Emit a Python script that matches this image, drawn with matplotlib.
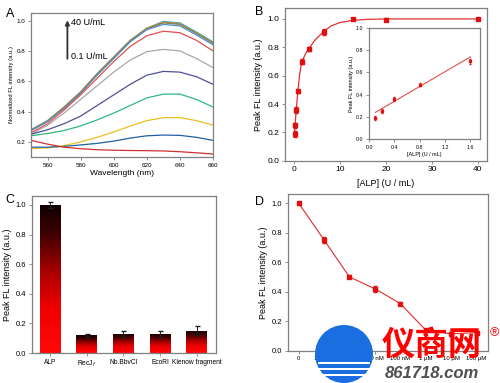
import numpy as np
import matplotlib
matplotlib.use("Agg")
import matplotlib.pyplot as plt
from matplotlib.colors import LinearSegmentedColormap
from matplotlib.patches import Ellipse, Rectangle

plt.rcParams['font.family'] = ['Liberation Sans', 'DejaVu Sans']

# ---------------- data ----------------
# panel A : spectra read every 10 nm
wl = [550, 560, 570, 580, 590, 600, 610, 620, 630, 640, 650, 660]
spectra = [
    ('#2ab5c8', [0.28, 0.34, 0.43, 0.53, 0.65, 0.76, 0.87, 0.95, 0.995, 0.985, 0.925, 0.86]),
    ('#c89040', [0.28, 0.34, 0.43, 0.53, 0.65, 0.76, 0.87, 0.95, 0.99, 0.98, 0.92, 0.855]),
    ('#8a7a50', [0.275, 0.335, 0.425, 0.525, 0.645, 0.755, 0.865, 0.945, 0.985, 0.975, 0.915, 0.85]),
    ('#4a90c8', [0.275, 0.335, 0.42, 0.52, 0.64, 0.75, 0.86, 0.94, 0.975, 0.965, 0.905, 0.84]),
    ('#e05050', [0.26, 0.32, 0.41, 0.51, 0.62, 0.73, 0.83, 0.90, 0.93, 0.92, 0.87, 0.80]),
    ('#a8a8a8', [0.25, 0.31, 0.39, 0.48, 0.57, 0.66, 0.74, 0.795, 0.81, 0.80, 0.75, 0.69]),
    ('#505098', [0.25, 0.28, 0.32, 0.37, 0.44, 0.51, 0.58, 0.64, 0.665, 0.66, 0.63, 0.58]),
    ('#30b880', [0.24, 0.255, 0.275, 0.305, 0.345, 0.39, 0.44, 0.49, 0.515, 0.515, 0.48, 0.43]),
    ('#e8c020', [0.155, 0.16, 0.175, 0.20, 0.23, 0.265, 0.305, 0.34, 0.36, 0.36, 0.34, 0.31]),
    ('#2060a0', [0.165, 0.165, 0.17, 0.18, 0.19, 0.205, 0.225, 0.24, 0.245, 0.243, 0.23, 0.21]),
    ('#d03030', [0.21, 0.185, 0.165, 0.155, 0.148, 0.145, 0.143, 0.142, 0.14, 0.135, 0.128, 0.12]),
]

# panel B
alp = [0.1, 0.2, 0.4, 0.8, 1.6, 3.2, 6.4, 12.8, 20, 40]
alp_int = [0.19, 0.25, 0.36, 0.49, 0.70, 0.79, 0.91, 1.0, 0.995, 1.0]
alp_err = [0.02, 0.02, 0.02, 0.01, 0.02, 0.015, 0.02, 0.01, 0.01, 0.01]
fit_x = [0, 0.2, 0.4, 0.8, 1.2, 1.6, 2.4, 3.2, 4.5, 6.4, 8, 10, 12.8, 16, 20, 30, 40]
fit_y = [0.17, 0.25, 0.34, 0.49, 0.61, 0.69, 0.75, 0.79, 0.85, 0.91, 0.95, 0.975, 0.99, 0.997, 1.0, 1.0, 1.0]
lin_x = [0.1, 1.6]
lin_y = [0.24, 0.74]
n_lin = 5

# panel C
enzymes = ['ALP', 'RecJ$_f$', 'Nb.BbvCI', 'EcoRI', 'Klenow fragment']
enz_int = [1.0, 0.12, 0.13, 0.13, 0.15]
enz_err = [0.02, 0.01, 0.02, 0.02, 0.03]

# panel D
inh_labels = ['0', '100 pM', '1 nM', '10 nM', '100 nM', '1 \u00b5M', '10 \u00b5M', '100 \u00b5M']
inh_int = [1.0, 0.75, 0.50, 0.42, 0.32, 0.14, 0.115, 0.124]
inh_err = [0.01, 0.02, 0.01, 0.02, 0.01, 0.01, 0.01, 0.01]

fig = plt.figure(figsize=(5, 3.83), dpi=100)
frame = '#808080'


def style(ax, fs=5):
    for s in ax.spines.values():
        s.set_color(frame)
        s.set_linewidth(0.9)
    ax.tick_params(labelsize=fs, length=2, width=0.6, color=frame, pad=2)


# ---- A ----
axA = fig.add_axes([0.062, 0.590, 0.364, 0.376])
for c, vals in spectra:
    axA.plot(wl, vals, color=c, lw=0.9)
axA.set_xlim(550, 660)
axA.set_ylim(0.1, 1.05)
axA.set_xticks([560, 580, 600, 620, 640, 660])
axA.set_yticks([0.2, 0.4, 0.6, 0.8, 1.0])
style(axA, 4.5)
axA.set_xlabel('Wavelength (nm)', fontsize=6, labelpad=2)
axA.set_ylabel('Normalized FL intensity (a.u.)', fontsize=4.2, labelpad=2)
axA.annotate('', xy=(572, 1.02), xytext=(572, 0.73),
             arrowprops=dict(arrowstyle='-|>', color='#303030', lw=1.3, mutation_scale=6))
axA.text(574, 0.99, '40 U/mL', fontsize=6.5, va='center')
axA.text(574, 0.765, '0.1 U/mL', fontsize=6.5, va='center')
fig.text(0.012, 0.955, 'A', fontsize=9)

# ---- B ----
axB = fig.add_axes([0.570, 0.580, 0.404, 0.3995])
axB.plot(fit_x, fit_y, color='#e03030', lw=0.9)
axB.errorbar(alp, alp_int, yerr=alp_err, fmt='s', color='#e01010', ms=3.2,
             elinewidth=0.7, capsize=1.5)
axB.set_xlim(-2, 42)
axB.set_ylim(0, 1.078)
axB.set_xticks([0, 10, 20, 30, 40])
axB.set_yticks([0.0, 0.2, 0.4, 0.6, 0.8, 1.0])
axB.yaxis.set_major_formatter(matplotlib.ticker.FormatStrFormatter('%.1f'))
style(axB, 6)
axB.set_xlabel('[ALP] (U / mL)', fontsize=6.5, labelpad=4)
axB.set_ylabel('Peak FL intensity (a.u.)', fontsize=6.5, labelpad=3)
fig.text(0.510, 0.960, 'B', fontsize=9)

axI = fig.add_axes([0.738, 0.637, 0.222, 0.290])
axI.plot(lin_x, lin_y, color='#e05050', lw=0.8)
axI.errorbar(alp[:n_lin], alp_int[:n_lin], yerr=alp_err[:n_lin], fmt='s', color='#e01010',
             ms=2, elinewidth=0.5, capsize=1)
axI.set_xlim(0, 1.75)
axI.set_ylim(0, 1.0)
axI.set_xticks([0.0, 0.4, 0.8, 1.2, 1.6])
axI.set_yticks([0.0, 0.2, 0.4, 0.6, 0.8, 1.0])
style(axI, 3.8)
axI.set_xlabel('[ALP] (U / mL)', fontsize=4, labelpad=1.5)
axI.set_ylabel('Peak FL intensity (a.u.)', fontsize=4, labelpad=1.5)

# ---- C ----
axC = fig.add_axes([0.064, 0.078, 0.368, 0.410])
grad = LinearSegmentedColormap.from_list('g', [(0, '#ff0808'), (0.3, '#f00000'),
                                               (0.55, '#a80000'), (0.8, '#400000'),
                                               (1.0, '#100000')])
pos = np.arange(1, len(enzymes) + 1)
bars = axC.bar(pos, enz_int, width=0.57, color='none', edgecolor='none')
for b in bars:
    x0, w, h = b.get_x(), b.get_width(), b.get_height()
    im = axC.imshow(np.linspace(0, 1, 100).reshape(-1, 1), cmap=grad, origin='lower',
                    extent=[x0, x0 + w, 0, h], aspect='auto', zorder=2)
    im.set_clip_path(b)
axC.errorbar(pos, enz_int, yerr=enz_err, fmt='none', ecolor='#202020', elinewidth=0.7,
             capsize=1.8, zorder=3)
axC.set_xlim(0.5, 5.53)
axC.set_ylim(0, 1.06)
axC.set_xticks(pos)
axC.set_xticklabels(enzymes)
axC.set_yticks([0.0, 0.2, 0.4, 0.6, 0.8, 1.0])
style(axC, 5.5)
axC.tick_params(axis='x', labelsize=4.8)
axC.set_ylabel('Peak FL intensity (a.u.)', fontsize=6.5, labelpad=3)
fig.text(0.010, 0.470, 'C', fontsize=9)

# ---- D ----
axD = fig.add_axes([0.576, 0.084, 0.400, 0.410])
xd = np.arange(len(inh_labels))
axD.plot(xd, inh_int, color='#e04040', lw=0.9)
axD.errorbar(xd, inh_int, yerr=inh_err, fmt='s', color='#e01010', ms=3.2,
             elinewidth=0.7, capsize=1.5)
axD.set_xlim(-0.42, 7.45)
axD.set_ylim(0, 1.063)
axD.set_xticks(xd)
axD.set_xticklabels(inh_labels)
axD.set_yticks([0.0, 0.2, 0.4, 0.6, 0.8, 1.0])
style(axD, 5.5)
axD.tick_params(axis='x', labelsize=4.3)
axD.set_ylabel('Peak FL intensity (a.u.)', fontsize=6.5, labelpad=3)
fig.text(0.510, 0.465, 'D', fontsize=9)

# watermark (logo disc with white stripes + text)
wm = fig.add_axes([0.0, 0.0, 1.0, 1.0], facecolor='none', zorder=10)
wm.set_xlim(0, 500)
wm.set_ylim(383, 0)
wm.axis('off')
wm.add_patch(Ellipse((344, 354), 58, 58, facecolor='#1a6ee0', edgecolor='none'))
for yy in [362, 368, 374]:
    wm.add_patch(Rectangle((318, yy), 52, 1.6, facecolor='white', edgecolor='none'))
wm.text(432, 345, '仪商网', fontsize=24, color='#ff0000', fontweight='bold',
        ha='center', va='center', family=['Noto Sans CJK SC', 'DejaVu Sans'])
wm.text(494, 333, '\u00ae', fontsize=9, color='#ff0000', ha='center', va='center')
wm.text(432, 373, '861718.com', fontsize=12, color='#505050', fontweight='bold',
        style='italic', ha='center', va='center')

fig.savefig('out.png', dpi=100)
